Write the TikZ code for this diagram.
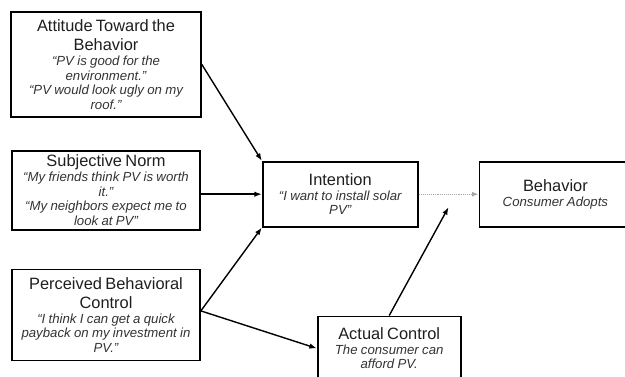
\documentclass[tikz,border=0pt]{standalone}
\usepackage{fontspec}
\setmainfont{Liberation Sans}
\usetikzlibrary{positioning,arrows.meta,calc}

\definecolor{ttlgray}{HTML}{1E1E1E}
\definecolor{qtgray}{HTML}{333333}
\definecolor{dotgray}{HTML}{A6A6A6}

\newcommand{\ttl}[1]{{\fontsize{16.4}{19.5}\selectfont\color{ttlgray}#1\par}}
\newcommand{\qt}[1]{{\fontsize{13.2}{14.7}\selectfont\itshape\color{qtgray}#1\par}}

\begin{document}
\begin{tikzpicture}[x=1pt, y=1pt,
                    main box/.style={draw, line width=1.7pt, inner sep=4pt, align=center},
                    arr/.style={line width=1.4pt, -{Latex[length=7.5pt,width=5.5pt]}},
                    dotarr/.style={dotgray, line width=1.1pt, densely dotted, -{Latex[length=6.5pt,width=5pt]}}]

  \useasboundingbox (0,0) rectangle (625,-377);

  % left column
  \node[main box, text width=182pt, minimum height=105pt] (A) at (106,-64.5)
     {\ttl{Attitude Toward the\\Behavior}\qt{“PV is good for the\\environment.”\\“PV would look ugly on my\\roof.”}};
  \node[main box, text width=180pt, minimum height=79pt] (S) [below=32pt of A]
     {\ttl{Subjective Norm}\qt{“My friends think PV is worth\\it.”\\“My neighbors expect me to\\look at PV”}};
  \node[main box, text width=180pt, minimum height=91pt] (P) [below=38pt of S]
     {\ttl{Perceived Behavioral\\Control}\qt{“I think I can get a quick\\payback on my investment in\\PV.”}};

  % middle and right
  \node[main box, text width=147pt, minimum height=65pt] (I) [right=61pt of S, yshift=-4pt]
     {\ttl{Intention}\qt{“I want to install solar\\PV”}};
  \node[main box, text width=144pt, minimum height=65pt] (B) [right=60pt of I]
     {\ttl{Behavior}\qt{Consumer Adopts}};
  \node[main box, text width=135pt, minimum height=64pt] (C) [below=88pt of I, xshift=49pt]
     {\ttl{Actual Control}\qt{The consumer can\\afford PV.}};

  \coordinate (gap) at ($($(I.east)!0.5!(B.west)$)+(0,-13)$);

  \draw[arr] (A.east) -- (I.north west);
  \draw[arr] (I.west -| S.east) -- (I.west);
  \draw[arr] ([yshift=4pt]P.east) -- (I.south west);
  \draw[arr] ([yshift=4pt]P.east) -- (C.west);
  \draw[arr] (C.north) -- (gap);
  \draw[dotarr] (I.east) -- (B.west);

\end{tikzpicture}
\end{document}
